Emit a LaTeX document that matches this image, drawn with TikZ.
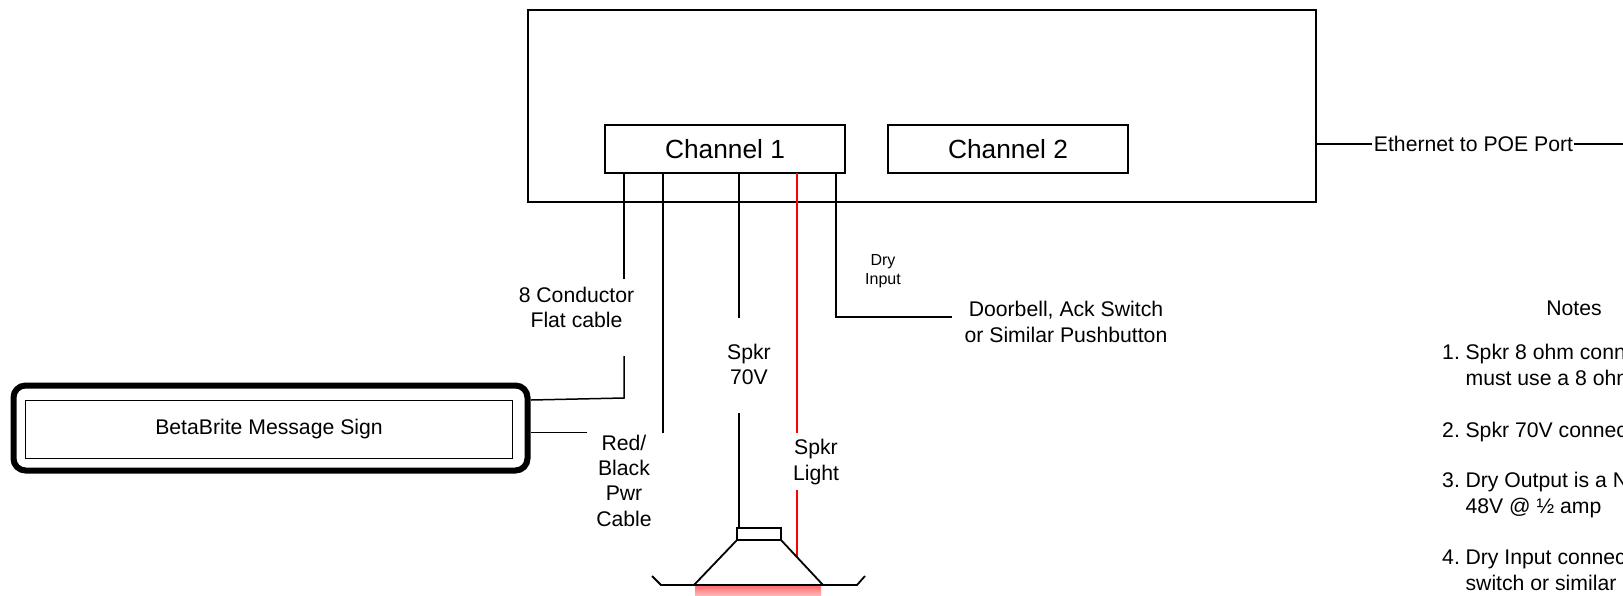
\documentclass[tikz,border=0pt]{standalone}
\usepackage{fontspec}
\setmainfont{Liberation Sans}
\usepackage{tikz}
\definecolor{spkr_red}{HTML}{FF0000}
\definecolor{glow_top}{HTML}{FF6F73}
\definecolor{glow_bot}{HTML}{FFB4B6}
\newcommand{\notenum}[1]{\makebox[23.4pt][l]{#1}}
\tikzset{
    boxnode/.style={draw, line width=1.8pt, inner sep=0pt, outer sep=0pt, align=center},
    wire/.style={line width=1.5pt},
    redwire/.style={line width=1.5pt, spkr_red},
    lbl/.style={inner sep=0pt, align=center, font=\fontsize{21.2}{25.2}\selectfont},
    note/.style={inner sep=0pt, align=left, anchor=base west, font=\fontsize{21.2}{25.2}\selectfont},
}

\begin{document}
\begin{tikzpicture}[x=1pt, y=-1pt]
        \useasboundingbox (0,0) rectangle (1623,595);

        \node[boxnode, minimum width=788pt, minimum height=192pt] (unit) at (922, 106) {};
        \node[boxnode, minimum width=240pt, minimum height=48pt, font=\fontsize{26.3}{30}\selectfont] (chan1) at (725, 149) {Channel 1};
        \node[boxnode, minimum width=240pt, minimum height=48pt, font=\fontsize{26.3}{30}\selectfont] (chan2) at (1008, 149) {Channel 2};

        \node[draw, line width=6pt, rounded corners=12pt, minimum width=514pt, minimum height=85pt, outer sep=0pt] (signframe) at (270.5, 428) {};
        \node[boxnode, minimum width=487pt, minimum height=58pt, font=\fontsize{21.2}{25.2}\selectfont] (sign) at (269, 429.5) {BetaBrite Message Sign};

        \node[lbl] (flatlbl) at (576.5, 307.5) {8 Conductor\\Flat cable};
        \node[lbl] (pwrlbl) at (624, 480.7) {Red/\\Black\\Pwr\\Cable};
        \node[lbl] (spkrlbl) at (749, 364.5) {Spkr\\70V};
        \node[lbl] (lightlbl) at (816, 462) {Spkr\\Light};
        \node[lbl, font=\fontsize{16}{19.5}\selectfont] (drylbl) at (883, 271) {Dry\\Input};
        \node[lbl] (belllbl) at (1066, 322) {Doorbell, Ack Switch\\or Similar Pushbutton};
        \node[lbl] (ethlbl) at (1473.5, 144) {Ethernet to POE Port};

        % wires out of channel 1
        \coordinate (w1) at (624, 173);
        \coordinate (w1e) at (624, 279);
        \coordinate (w1b) at (624, 356);
        \coordinate (w1c) at (624, 398);
        \coordinate (w1d) at (531, 400);
        \coordinate (w2) at (663, 173);
        \coordinate (w2e) at (663, 433);
        \coordinate (w2b) at (531, 432.5);
        \coordinate (w2c) at (587, 432.5);
        \coordinate (w3) at (739, 173);
        \coordinate (w3e) at (739, 318);
        \coordinate (w3b) at (739, 413);
        \coordinate (w4) at (797, 173);
        \coordinate (w4e) at (797, 433);
        \coordinate (w4b) at (797, 490);
        \coordinate (w5) at (836, 173);
        \coordinate (w5c) at (836, 317);
        \coordinate (w5e) at (951.5, 317);
        \coordinate (e1) at (1316, 144);
        \coordinate (e2) at (1372, 144);
        \coordinate (e3) at (1574, 144);
        \coordinate (e4) at (1623, 144);

        % speaker
        \coordinate (s1) at (694, 585);
        \coordinate (s2) at (823, 585);
        \coordinate (s3) at (737, 540);
        \coordinate (s4) at (781, 540);
        \coordinate (s5) at (661, 585);
        \coordinate (s6) at (857, 585);
        \coordinate (s7) at (652, 576);
        \coordinate (s8) at (865, 576);
        \coordinate (s9) at (739, 528);
        \coordinate (s10) at (797, 557);
        \shade[top color=glow_top, bottom color=glow_bot] (695, 586) rectangle (821, 595);
        \node[boxnode, minimum width=44pt, minimum height=12pt] (magnet) at (759, 534) {};

        \draw[wire] (w1) -- (w1e);
        \draw[wire] (w1b) -- (w1c) -- (w1d);
        \draw[wire] (w2) -- (w2e);
        \draw[wire] (w2b) -- (w2c);
        \draw[wire] (w3) -- (w3e);
        \draw[wire] (w3b) -- (s9);
        \draw[redwire] (w4) -- (w4e);
        \draw[redwire] (w4b) -- (s10);
        \draw[wire] (w5) -- (w5c) -- (w5e);
        \draw[line width=2.6pt] (e1) -- (e2);
        \draw[line width=2.6pt] (e3) -- (e4);
        \draw[line width=1.8pt] (s3) -- (s1) -- (s2) -- (s4);
        \draw[line width=1.8pt] (s7) -- (s5) -- (s1);
        \draw[line width=1.8pt] (s2) -- (s6) -- (s8);

        % notes, run off the right edge
        \node[lbl] (noteshead) at (1574, 308) {Notes};
        \node[note] (note1) at (1442, 385) {\notenum{1.}Spkr 8 ohm conn\\\notenum{}must use a 8 ohm};
        \node[note] (note2) at (1442, 437) {\notenum{2.}Spkr 70V connec};
        \node[note] (note3) at (1442, 513) {\notenum{3.}Dry Output is a N\\\notenum{}48V @ ½ amp};
        \node[note] (note4) at (1442, 590) {\notenum{4.}Dry Input connec\\\notenum{}switch or similar};

\end{tikzpicture}
\end{document}
